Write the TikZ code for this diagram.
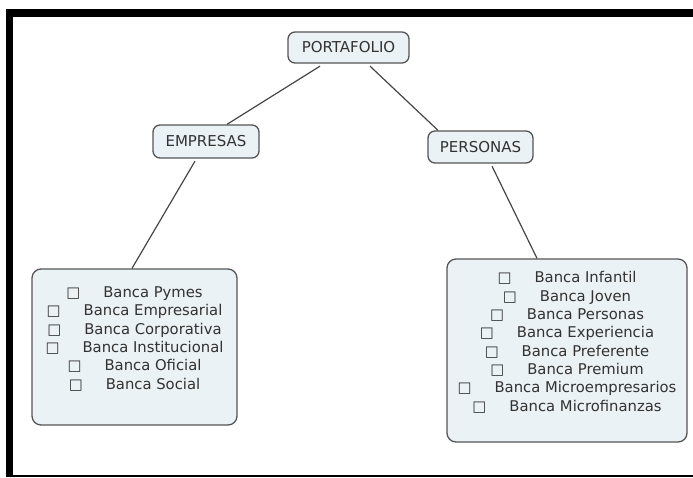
\documentclass[tikz,border=0pt]{standalone}
\usepackage{fontspec}
\setmainfont{DejaVu Sans}
\usetikzlibrary{calc}
\definecolor{boxfill}{RGB}{235,242,245}
\definecolor{boxline}{RGB}{85,85,85}
\definecolor{ink}{RGB}{50,50,50}
\definecolor{wirecol}{RGB}{70,70,70}
% one checklist entry: open square, gap, label
\newcommand{\chk}[1]{□\hspace{23pt}#1}

\begin{document}
\begin{tikzpicture}[x=1pt,y=-1pt,
  topic/.style={draw=boxline, fill=boxfill, line width=1.3pt, rounded corners=7pt,
    inner sep=0pt, text=ink, font=\fontsize{15}{18}\selectfont},
  listbox/.style={draw=boxline, fill=boxfill, line width=1.3pt, rounded corners=9pt,
    inner sep=0pt, text=ink, align=center, font=\fontsize{14.8}{18.3}\selectfont},
  wire/.style={draw=wirecol, line width=1.2pt}]
\useasboundingbox (0,0) rectangle (693,477);

% black frame
\fill[black] (6,9) rectangle (693,17);
\fill[black] (6,9) rectangle (13,477);
\fill[black] (6,475) rectangle (693,477);

% topic boxes
\node[topic, minimum width=121pt, minimum height=31pt] (pf) at (348.5,47.5) {PORTAFOLIO};
\node[topic, minimum width=106pt, minimum height=33pt] (em) at (206,141.5) {EMPRESAS};
\node[topic, minimum width=105pt, minimum height=32pt] (pe) at (480.5,147) {PERSONAS};

% product lists
\node[listbox, minimum width=205pt, minimum height=156pt] (lb) at (134.5,347) {%
  \chk{Banca Pymes}\\
  \chk{Banca Empresarial}\\
  \chk{Banca Corporativa}\\
  \chk{Banca Institucional}\\
  \chk{Banca Oficial}\\
  \chk{Banca Social}\\
  ~};
\node[listbox, minimum width=240pt, minimum height=183pt] (rb) at (567,350.5) {%
  \chk{Banca Infantil}\\
  \chk{Banca Joven}\\
  \chk{Banca Personas}\\
  \chk{Banca Experiencia}\\
  \chk{Banca Preferente}\\
  \chk{Banca Premium}\\
  \chk{Banca Microempresarios}\\
  \chk{Banca Microfinanzas}\\
  ~};

% connectors
\draw[wire] ($(pf.south)+(-28.5,2.5)$) -- ($(em.north)+(21,0)$);
\draw[wire] ($(pf.south)+(21.5,2.5)$) -- ($(pe.north)+(-42.5,0)$);
\draw[wire] ($(em.south)+(-11,2.5)$) -- ($(lb.north)+(-2.5,0)$);
\draw[wire] ($(pe.south)+(11.5,2.5)$) -- ($(rb.north)+(-30,0)$);
\end{tikzpicture}
\end{document}
